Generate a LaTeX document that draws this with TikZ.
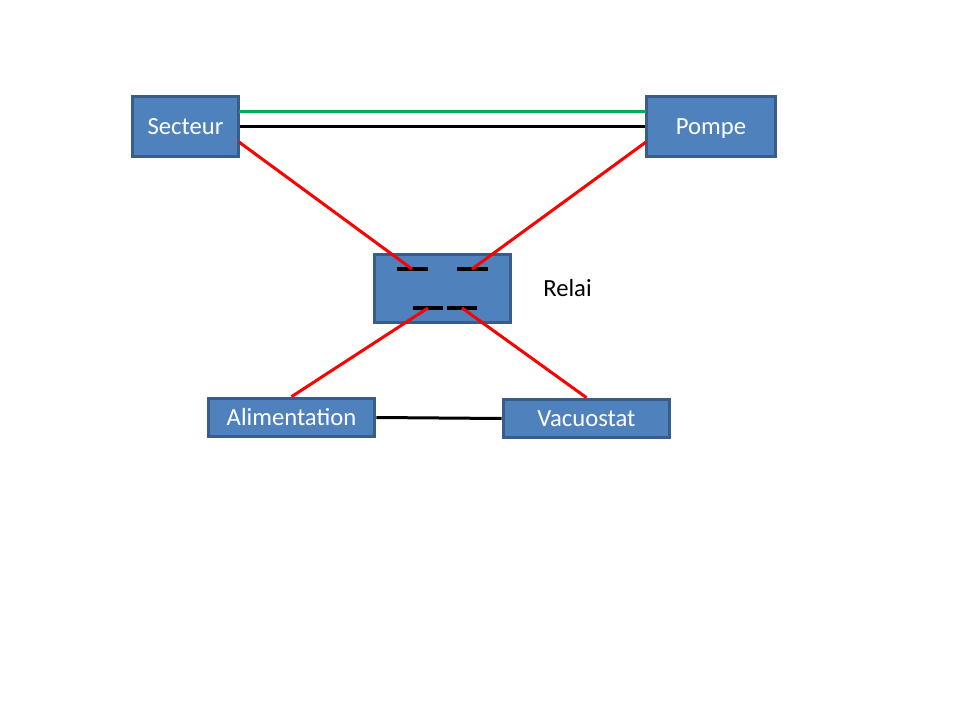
\documentclass[tikz,border=0pt]{standalone}
\usepackage{fontspec}
\setmainfont{Carlito}
\definecolor{boxfill}{HTML}{4F81BD}
\definecolor{boxline}{HTML}{385D8A}
\definecolor{wiregreen}{HTML}{00B050}
\tikzset{
  blockbox/.style={draw=boxline,fill=boxfill,line width=2.25pt,text=white,font=\fontsize{18.5}{22}\selectfont,inner sep=0pt,text height=15pt,text depth=3pt,minimum width=#1},
  wire/.style={line width=2.25pt,draw=#1},
  contact/.style={line width=2.5pt,draw=black},
  caption/.style={text=black,font=\fontsize{18.5}{22}\selectfont,inner sep=0pt,text height=15pt,text depth=3pt}
}
\begin{document}
\begin{tikzpicture}[x=0.75pt,y=-0.75pt]
\useasboundingbox (0,0) rectangle (960,720);
\fill[white] (0,0) rectangle (960,720);
% blocks
\node[blockbox=80pt,minimum height=45.5pt] (sec) at (185.5,126.5) {Secteur};
\node[blockbox=97.25pt,minimum height=45.5pt] (pom) at (711,126.5) {Pompe};
\node[blockbox=102.5pt,minimum height=51.5pt] (rel) at (442.5,288.5) {};
\node[blockbox=125pt,minimum height=29pt] (ali) at (291.5,417.5) {Alimentation};
\node[blockbox=125pt,minimum height=29pt] (vac) at (586.5,418.5) {Vacuostat};
\node[caption] (lab) at (567.5,288.5) {Relai};
% connection points
\coordinate (secg) at (239,111.5);
\coordinate (pomg) at (646,111.5);
\coordinate (secr) at (239,142);
\coordinate (pomr) at (646,142);
\coordinate (tla) at (397,269);
\coordinate (tlb) at (428,269);
\coordinate (tlc) at (412,269);
\coordinate (tra) at (457,269);
\coordinate (trb) at (488,269);
\coordinate (trc) at (472,269);
\coordinate (bla) at (412.5,308);
\coordinate (blb) at (443,308);
\coordinate (blc) at (428,308);
\coordinate (bra) at (446.5,308);
\coordinate (brb) at (477,308);
\coordinate (brc) at (462,308);
% contacts
\draw[contact] (tla) -- (tlb);
\draw[contact] (tra) -- (trb);
\draw[contact] (bla) -- (blb);
\draw[contact] (bra) -- (brb);
% wires
\draw[wire=wiregreen] (secg) -- (pomg);
\draw[wire=black] (sec.east) -- (pom.west);
\draw[wire=black] (ali.east) -- (vac.west);
\draw[wire=red] (secr) -- (tlc);
\draw[wire=red] (pomr) -- (trc);
\draw[wire=red] (ali.north) -- (blc);
\draw[wire=red] (vac.north) -- (brc);
\end{tikzpicture}
\end{document}
